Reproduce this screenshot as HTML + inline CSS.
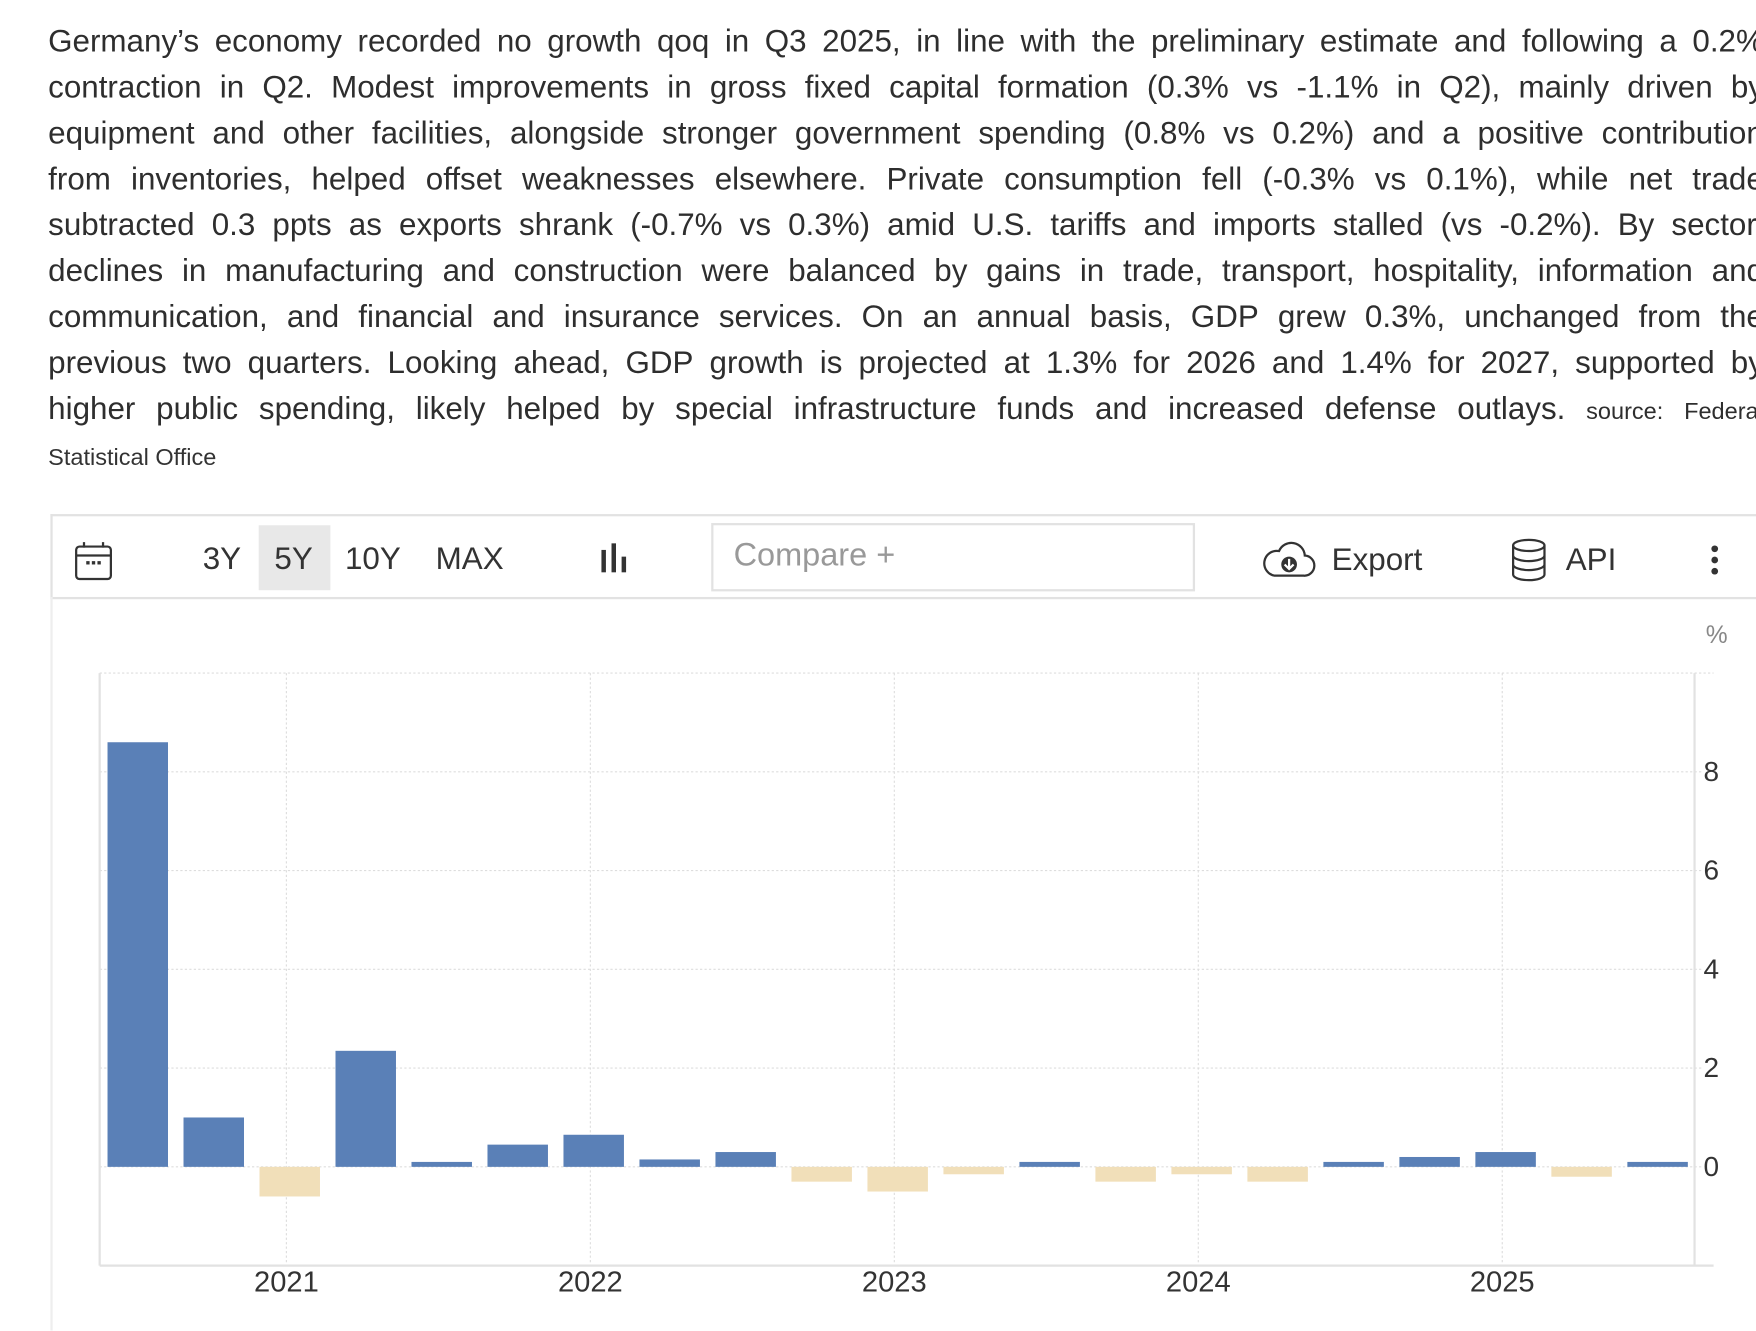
<!DOCTYPE html>
<html><head><meta charset="utf-8"><style>
html,body{margin:0;padding:0;background:#fff;width:1756px;height:1330px;overflow:hidden}
#wrap{position:absolute;left:0;top:0;width:1568px;height:1188px;transform:scale(1.12);transform-origin:0 0;font-family:"Liberation Sans",Arial,sans-serif;color:#333}
.ln{position:absolute;left:43px;width:1532px;font-size:28px;line-height:41px;white-space:nowrap;color:#2e2e2e}
.ln span.j{display:flex;justify-content:space-between}
.src{font-size:21px}
.tb{position:absolute;font-size:28px;color:#333}
</style></head><body><div id="wrap">
<div id="desc"></div>
<div style="position:absolute;left:43px;top:397px;font-size:21px;">Statistical Office</div>

<div style="position:absolute;left:45px;top:459px;width:1540px;height:72px;border:2px solid #e2e2e2;border-right:none;"></div>
<svg style="position:absolute;left:66px;top:482px" width="36" height="38" viewBox="0 0 36 38"><rect x="2" y="6" width="31" height="29" rx="3" fill="none" stroke="#333" stroke-width="2"/><line x1="2" y1="14" x2="33" y2="14" stroke="#333" stroke-width="2"/><line x1="9" y1="2" x2="9" y2="7" stroke="#333" stroke-width="2"/><line x1="26" y1="2" x2="26" y2="7" stroke="#333" stroke-width="2"/><rect x="11" y="19" width="3" height="3" fill="#333"/><rect x="16" y="19" width="3" height="3" fill="#333"/><rect x="21" y="19" width="3" height="3" fill="#333"/></svg>
<div class="tb" style="left:181px;top:483px">3Y</div>
<div style="position:absolute;left:231px;top:469px;width:64px;height:58px;background:#e8e8e8"></div>
<div class="tb" style="left:245px;top:483px">5Y</div>
<div class="tb" style="left:308px;top:483px">10Y</div>
<div class="tb" style="left:389px;top:483px">MAX</div>
<svg style="position:absolute;left:536px;top:485px" width="28" height="28"><rect x="1" y="6" width="4" height="20" fill="#333"/><rect x="10" y="0" width="4" height="26" fill="#333"/><rect x="19" y="12" width="4" height="14" fill="#333"/></svg>
<div style="position:absolute;left:635px;top:467px;width:428px;height:57px;border:2px solid #e2e2e2;"></div>
<div class="tb" style="left:655px;top:480px;color:#999;font-size:29px">Compare +</div>
<svg style="position:absolute;left:1127px;top:482px" width="48" height="36" viewBox="0 0 48 36"><path d="M11 32 H37 A9 9 0 0 0 38 14 A12 12 0 0 0 15 10 A10 10 0 0 0 11 32 Z" fill="none" stroke="#333" stroke-width="2"/><circle cx="24" cy="22" r="7" fill="#333"/><path d="M24 17 V26 M20 22 L24 26 L28 22" stroke="#fff" stroke-width="2" fill="none"/></svg>
<div class="tb" style="left:1189px;top:484px">Export</div>
<svg style="position:absolute;left:1347px;top:480px" width="36" height="40" viewBox="0 0 36 40"><ellipse cx="18" cy="7" rx="14" ry="5" fill="none" stroke="#333" stroke-width="2"/><path d="M4 7 V33 A14 5 0 0 0 32 33 V7 M4 16 A14 5 0 0 0 32 16 M4 24 A14 5 0 0 0 32 24" fill="none" stroke="#333" stroke-width="2"/></svg>
<div class="tb" style="left:1398px;top:484px">API</div>
<svg style="position:absolute;left:1525px;top:486px" width="12" height="30"><circle cx="6" cy="4" r="3" fill="#333"/><circle cx="6" cy="14" r="3" fill="#333"/><circle cx="6" cy="24" r="3" fill="#333"/></svg>
<div style="position:absolute;left:45px;top:533px;width:2px;height:655px;background:#eee"></div>

<svg id="chart" style="position:absolute;left:0;top:0" width="1568" height="1188"></svg>
</div>
<script>
const lines=[
"Germany’s economy recorded no growth qoq in Q3 2025, in line with the preliminary estimate and following a 0.2%",
"contraction in Q2. Modest improvements in gross fixed capital formation (0.3% vs -1.1% in Q2), mainly driven by",
"equipment and other facilities, alongside stronger government spending (0.8% vs 0.2%) and a positive contribution",
"from inventories, helped offset weaknesses elsewhere. Private consumption fell (-0.3% vs 0.1%), while net trade",
"subtracted 0.3 ppts as exports shrank (-0.7% vs 0.3%) amid U.S. tariffs and imports stalled (vs -0.2%). By sector,",
"declines in manufacturing and construction were balanced by gains in trade, transport, hospitality, information and",
"communication, and financial and insurance services. On an annual basis, GDP grew 0.3%, unchanged from the",
"previous two quarters. Looking ahead, GDP growth is projected at 1.3% for 2026 and 1.4% for 2027, supported by",
"higher public spending, likely helped by special infrastructure funds and increased defense outlays."];
const desc=document.getElementById('desc');
lines.forEach((t,i)=>{const d=document.createElement('div');d.className='ln';d.style.top=(16+i*41)+'px';


const s=document.createElement('span');s.className='j';
let words=t.split(' ');if(i===8){words.push('<small>source:</small>','<small>Federal</small>');}
s.innerHTML=words.map(w=>w.startsWith('<small>')?'<span class="src">'+w.slice(7,-8)+'</span>':'<span>'+w+'</span>').join('');
s.style.alignItems='baseline';d.appendChild(s);desc.appendChild(d);});

const quarters=["Q3 2020","Q4 2020","Q1 2021","Q2 2021","Q3 2021","Q4 2021","Q1 2022","Q2 2022","Q3 2022","Q4 2022","Q1 2023","Q2 2023","Q3 2023","Q4 2023","Q1 2024","Q2 2024","Q3 2024","Q4 2024","Q1 2025","Q2 2025","Q3 2025"];
const values=[8.6,1.0,-0.6,2.35,0.1,0.45,0.65,0.15,0.3,-0.3,-0.5,-0.15,0.1,-0.3,-0.15,-0.3,0.1,0.2,0.3,-0.2,0.1];
const yTicks=[0,2,4,6,8];
const yearLabels=["2021","2022","2023","2024","2025"];
const svg=document.getElementById('chart');const NS='http://www.w3.org/2000/svg';
const L=89,R=1513,T=601,B=1130,ymin=-2,ymax=10;
const y=v=>B-(v-ymin)/(ymax-ymin)*(B-T);
const step=(1480-123)/20;const x=i=>123+i*step;
function mk(tag,a,p){const e=document.createElementNS(NS,tag);for(const k in a)e.setAttribute(k,a[k]);(p||svg).appendChild(e);return e;}
let g=mk('line',{x1:L,y1:T,x2:1530,y2:T,stroke:'#ddd','stroke-dasharray':'2,2'});


yTicks.forEach(v=>{const l=mk('line',{x1:L,y1:y(v),x2:1520,y2:y(v),stroke:'#ddd','stroke-dasharray':'2,2'});


const t=mk('text',{x:1521,y:y(v)+8,'font-size':25,fill:'#333','font-family':'Liberation Sans, sans-serif'});t.textContent=v;

});
yearLabels.forEach((yr,k)=>{const xi=x(quarters.indexOf('Q1 '+yr))-3;
const l=mk('line',{x1:xi,y1:T,x2:xi,y2:B,stroke:'#ddd','stroke-dasharray':'2,2'});


const t=mk('text',{x:xi,y:1153,'font-size':26,fill:'#333','text-anchor':'middle','font-family':'Liberation Sans, sans-serif'});t.textContent=yr;

});
[['line',{x1:L,y1:T,x2:L,y2:B,stroke:'#e2e2e2','stroke-width':2},'y-axis-left'],['line',{x1:R,y1:T,x2:R,y2:B,stroke:'#e2e2e2','stroke-width':2},'y-axis-right'],['line',{x1:L,y1:B,x2:1530,y2:B,stroke:'#e2e2e2','stroke-width':2},'x-axis']].forEach(a=>{const e=mk(a[0],a[1]);

});
const pct=mk('text',{x:1523,y:574,'font-size':22,fill:'#888','font-family':'Liberation Sans, sans-serif'});pct.textContent='%';


values.forEach((v,i)=>{const top=Math.min(y(v),y(0)),h=Math.abs(y(v)-y(0));
const r=mk('rect',{x:x(i)-27,y:top,width:54,height:h,fill:v>=0?'#5a80b7':'#f1dfb9'});

});
</script></body></html>
